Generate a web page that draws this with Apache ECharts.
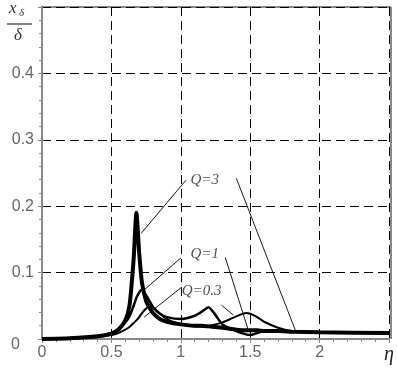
<!DOCTYPE html>
<html style="height: 100%">
<head>
    <meta charset="utf-8">
    <title>Q curves</title>
</head>
<body style="height: 100%; margin: 0; background: #fff">
    <div id="container" style="width: 397px; height: 376px"></div>
    <script src="https://cdn.jsdelivr.net/npm/echarts@6/dist/echarts.min.js"></script>
    <script type="text/javascript">
        // data
        var eta = [0, 0.2, 0.4, 0.5, 0.55, 0.6, 0.63, 0.66, 0.68, 0.7, 0.72, 0.75, 0.78, 0.8, 0.85, 0.9, 1.0, 1.1, 1.15, 1.2, 1.25, 1.3, 1.4, 1.47, 1.5, 1.55, 1.6, 1.7, 1.8, 2.0, 2.5];
        var q3 = [0, 0.001, 0.004, 0.008, 0.014, 0.028, 0.05, 0.12, 0.19, 0.13, 0.085, 0.057, 0.045, 0.039, 0.03, 0.026, 0.022, 0.02, 0.02, 0.019, 0.018, 0.017, 0.014, 0.013, 0.013, 0.013, 0.012, 0.012, 0.011, 0.01, 0.009];
        var q1 = [0, 0.001, 0.004, 0.009, 0.015, 0.025, 0.034, 0.05, 0.062, 0.07, 0.075, 0.066, 0.055, 0.048, 0.038, 0.033, 0.03, 0.035, 0.041, 0.048, 0.036, 0.022, 0.012, 0.007, 0.006, 0.009, 0.012, 0.012, 0.011, 0.01, 0.009];
        var q03 = [0, 0.0005, 0.003, 0.006, 0.009, 0.014, 0.018, 0.024, 0.028, 0.033, 0.039, 0.046, 0.05, 0.047, 0.038, 0.03, 0.022, 0.019, 0.019, 0.02, 0.022, 0.025, 0.034, 0.039, 0.038, 0.033, 0.026, 0.017, 0.012, 0.01, 0.009];

        var xTicks = ['0', '0.5', '1', '1.5', '2', 'η'];
        var yTicks = ['0', '0.1', '0.2', '0.3', '0.4', ''];

        // leader lines [from, to] and label anchors
        var leaders = [
            [[1.036, 0.239], [0.714, 0.159]],
            [[1.4, 0.242], [1.83, 0.0105]],
            [[1.0, 0.122], [0.72, 0.071]],
            [[1.32, 0.123], [1.486, 0.0135]],
            [[1.0, 0.077], [0.736, 0.033]],
            [[1.293, 0.051], [1.379, 0.036]]
        ];
        var qNames = ['Q=3', 'Q=1', 'Q=0.3'];
        var qPos = [[1.07, 0.239], [1.07, 0.128], [1.007, 0.072]];

        function pairs(ys) {
            return eta.map(function (x, i) { return [x, ys[i]]; });
        }

        var dom = document.getElementById('container');
        var myChart = echarts.init(dom);

        var series = [
            { type: 'line', data: pairs(q3), symbol: 'none', smooth: 0.2, lineStyle: { color: '#000', width: 4 } },
            { type: 'line', data: pairs(q1), symbol: 'none', smooth: 0.2, lineStyle: { color: '#000', width: 2.5 } },
            { type: 'line', data: pairs(q03), symbol: 'none', smooth: 0.2, lineStyle: { color: '#000', width: 2 } }
        ];
        leaders.forEach(function (l) {
            series.push({ type: 'line', data: l, symbol: 'none', silent: true, lineStyle: { color: '#000', width: 0.9 } });
        });
        series.push({
            type: 'scatter',
            symbolSize: 0,
            silent: true,
            data: qPos.map(function (p, i) { return { name: qNames[i], value: p }; }),
            label: {
                show: true,
                position: 'right',
                distance: 0,
                formatter: '{b}',
                color: '#222',
                fontFamily: 'Liberation Serif',
                fontStyle: 'italic',
                fontSize: 15
            }
        });

        var option = {
            animation: false,
            grid: { left: 42, right: 6, top: 7, bottom: 37 },
            xAxis: {
                type: 'value',
                min: 0, max: 2.5, interval: 0.5,
                axisLine: { lineStyle: { color: '#888', width: 2 } },
                axisTick: { show: true, length: 4, lineStyle: { color: '#888' } },
                minorTick: { show: true, splitNumber: 5, length: 3, lineStyle: { color: '#888' } },
                splitLine: { show: true, lineStyle: { color: '#000', type: [9, 5], width: 1 } },
                axisLabel: {
                    color: '#666', fontSize: 16, fontFamily: 'Liberation Sans', margin: 6,
                    showMaxLabel: true,
                    formatter: function (v) {
                        var s = xTicks[Math.round(v / 0.5)];
                        return s === 'η' ? '{e|η}' : s;
                    },
                    rich: { e: { fontFamily: 'Liberation Serif', fontStyle: 'italic', fontSize: 20, color: '#222' } }
                }
            },
            yAxis: {
                type: 'value',
                min: 0, max: 0.5, interval: 0.1,
                axisLine: { show: true, lineStyle: { color: '#888', width: 2 } },
                axisTick: { show: true, length: 4, lineStyle: { color: '#888' } },
                minorTick: { show: true, splitNumber: 5, length: 3, lineStyle: { color: '#888' } },
                splitLine: { show: true, lineStyle: { color: '#000', type: [9, 5], width: 1 } },
                axisLabel: {
                    color: '#666', fontSize: 16, fontFamily: 'Liberation Sans', margin: 8,
                    formatter: function (v) {
                        var s = yTicks[Math.round(v / 0.1)];
                        return s === '0' ? '{z|0}' : s;
                    },
                    rich: { z: { color: '#666', fontSize: 16, fontFamily: 'Liberation Sans', padding: [12, 14, 0, 0] } }
                }
            },
            graphic: [
                // top and right frame
                { type: 'line', shape: { x1: 41, y1: 7, x2: 391, y2: 7 }, style: { stroke: '#888', lineWidth: 2 } },
                { type: 'line', shape: { x1: 391, y1: 7, x2: 391, y2: 339 }, style: { stroke: '#888', lineWidth: 2 } },
                // y title x_δ / δ
                { type: 'text', left: 9, top: 0, style: { text: 'x', font: 'italic 17px Liberation Serif', fill: '#333' } },
                { type: 'text', left: 19, top: 8, style: { text: 'δ', font: 'italic 11px Liberation Serif', fill: '#333' } },
                { type: 'line', shape: { x1: 7, y1: 24, x2: 32, y2: 24 }, style: { stroke: '#333', lineWidth: 1.2 } },
                { type: 'text', left: 14, top: 27, style: { text: 'δ', font: 'italic 17px Liberation Serif', fill: '#333' } }
            ],
            series: series
        };
        myChart.setOption(option);
    </script>
</body>
</html>
